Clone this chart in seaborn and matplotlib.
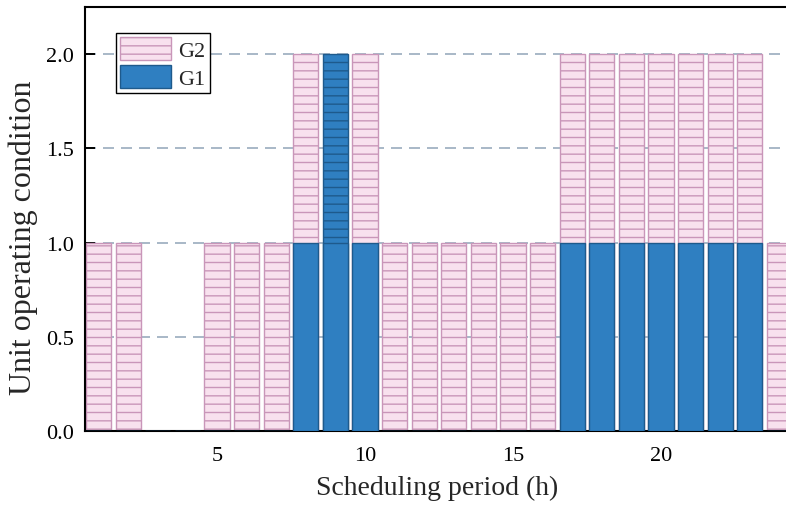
import matplotlib
matplotlib.use("Agg")
import matplotlib.pyplot as plt
from matplotlib.patches import Patch
import pandas as pd
import seaborn as sns

# unit status per hour (G1 at the bottom, G2 stacked on top)
hours = list(range(1, 25))
g1 = [0, 0, 0, 0, 0, 0, 0, 1, 1, 1, 0, 0, 0, 0, 0, 0, 1, 1, 1, 1, 1, 1, 1, 0]
g2 = [1, 1, 0, 0, 1, 1, 1, 1, 1, 1, 1, 1, 1, 1, 1, 1, 1, 1, 1, 1, 1, 1, 1, 1]
odd_hour = 9  # top segment of this bar is drawn in the G1 colour
y_ticks = [0.0, 0.5, 1.0, 1.5, 2.0]
x_ticks = [5, 10, 15, 20]

df = pd.DataFrame({"hour": hours, "g1": g1, "g2": g2})
df["total"] = df["g1"] + df["g2"]

pink, pink_edge = "#f8e1ee", "#c996b9"
blue, blue_edge = "#2f7fc1", "#1e5a8c"

sns.set_style("white")
plt.rcParams["font.family"] = ["Liberation Serif", "DejaVu Serif"]
plt.rcParams["hatch.linewidth"] = 1.0

fig = plt.figure(figsize=(7.86, 5.10), dpi=100)
ax = fig.add_axes([0.108, 0.153, 0.892, 0.831])

sns.barplot(data=df, x="hour", y="total", native_scale=True, width=0.85,
            errorbar=None, saturation=1, color=pink, edgecolor=pink_edge,
            linewidth=1.0, hatch="--", ax=ax, zorder=2)
for p in ax.containers[0]:
    if abs(p.get_x() + p.get_width() / 2 - odd_hour) < 0.1:
        p.set_facecolor(blue)
        p.set_edgecolor(blue_edge)

sns.barplot(data=df, x="hour", y="g1", native_scale=True, width=0.85,
            errorbar=None, saturation=1, color=blue, edgecolor=blue_edge,
            linewidth=1.0, ax=ax, zorder=3)

ax.set_xlim(0.54, 24.22)
ax.set_ylim(0, 2.25)
ax.set_xticks(x_ticks)
ax.set_yticks(y_ticks)
ax.set_yticklabels([f"{v:.1f}" for v in y_ticks])

ax.set_axisbelow(True)
ax.yaxis.grid(True, color="#aab9c8", linewidth=1.44, linestyle=(0, (5.5, 3.5)))
ax.xaxis.grid(False)

for side in ["left", "bottom", "top"]:
    ax.spines[side].set_color("black")
    ax.spines[side].set_linewidth(1.5)
ax.spines["right"].set_visible(False)

ax.tick_params(axis="both", direction="in", length=7, width=1.4,
               labelsize=16, pad=8, color="black", labelcolor="black")
ax.tick_params(axis="x", bottom=True, pad=11)
ax.tick_params(axis="y", left=True)

ax.set_xlabel("Scheduling period (h)", fontsize=20)
ax.set_ylabel("Unit operating condition", fontsize=23)
ax.xaxis.set_label_coords(0.502, -0.104)
ax.yaxis.set_label_coords(-0.067, 0.458)

handles = [
    Patch(facecolor=pink, edgecolor=pink_edge, hatch="--", linewidth=1.0, label="G2"),
    Patch(facecolor=blue, edgecolor=blue_edge, linewidth=1.0, label="G1"),
]
leg = ax.legend(handles=handles, loc="upper left", bbox_to_anchor=(0.044, 0.939),
                fontsize=16, frameon=True, fancybox=False, edgecolor="black",
                framealpha=1, borderpad=0.2, labelspacing=0.2,
                handlelength=2.3, handleheight=1.15, handletextpad=0.3,
                borderaxespad=0)
leg.get_frame().set_linewidth(1.0)

fig.savefig("out.png", dpi=100)
